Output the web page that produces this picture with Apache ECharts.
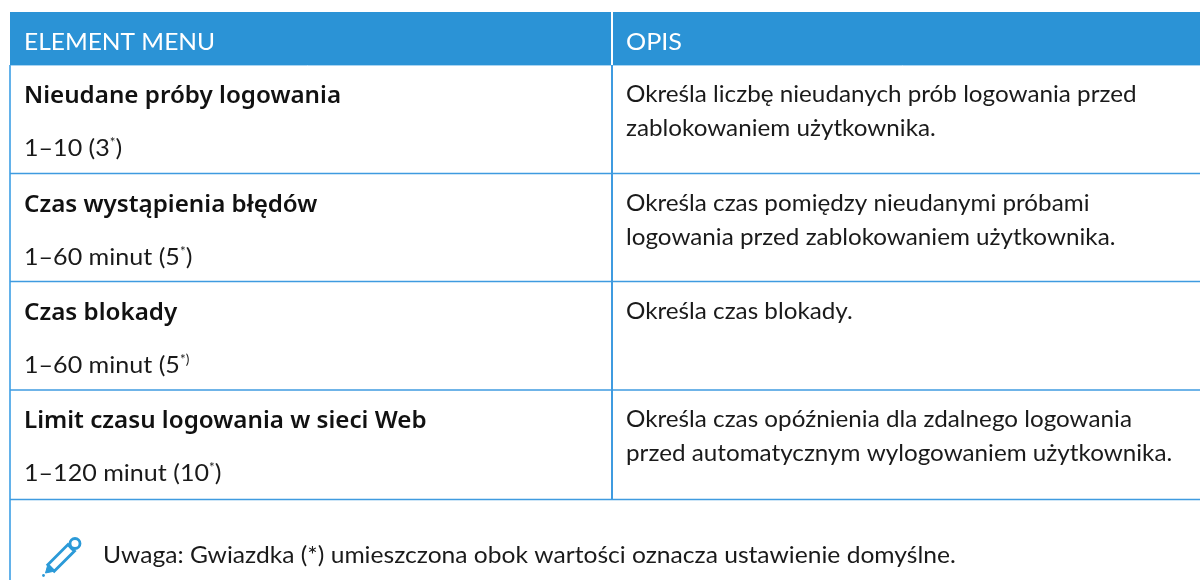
<!DOCTYPE html>
<html><head><meta charset="utf-8"><style>html,body{margin:0;padding:0;background:#fff}#c{width:1200px;height:580px}</style>
<script src="https://cdn.jsdelivr.net/npm/echarts@6/dist/echarts.min.js"></script></head>
<body><div id="c"></div>
<script>
const headers = ['ELEMENT MENU', 'OPIS'];
const names = ['Nieudane próby logowania', 'Czas wystąpienia błędów', 'Czas blokady', 'Limit czasu logowania w sieci Web'];
const values = ['1–10 (3{s|*})', '1–60 minut (5{s|*})', '1–60 minut (5{s|*)}', '1–120 minut (10{s|*})'];
const descriptions = [
 ['Określa liczbę nieudanych prób logowania przed', 'zablokowaniem użytkownika.'],
 ['Określa czas pomiędzy nieudanymi próbami', 'logowania przed zablokowaniem użytkownika.'],
 ['Określa czas blokady.'],
 ['Określa czas opóźnienia dla zdalnego logowania', 'przed automatycznym wylogowaniem użytkownika.']
];
const note = 'Uwaga: Gwiazdka (*) umieszczona obok wartości oznacza ustawienie domyślne.';

const FONT = 'Lato', SIZE = 24, INK = '#1a1a1a', BLUE = '#2b93d6', LINE = '#3f9be0', PEN = '#2b9ad8';
const rowLines = [173.5, 281.5, 390, 499.5];
const g = [];
const txt = (x, y, t, o, sx) => g.push({type:'text', x, y, scaleX:sx||1, silent:true, style:Object.assign({text:t, fill:INK, font:SIZE+'px '+FONT, textVerticalAlign:'middle',
  rich:{s:{fontSize:13, fontFamily:FONT, fill:INK, verticalAlign:'top', lineHeight:22}}}, o||{})});
const line = (x1,y1,x2,y2,c,w) => g.push({type:'line', silent:true, shape:{x1,y1,x2,y2}, style:{stroke:c,lineWidth:w}});

g.push({type:'rect', silent:true, shape:{x:10,y:12,width:1190,height:53}, style:{fill:BLUE}});
line(612,12,612,65,'#ffffff',2);
line(10,65.5,1200,65.5,'#a9d4f2',1);
line(10,65,10,580,'#63b2ea',2);
line(612,65,612,500,LINE,2);
rowLines.forEach(y=>line(10,y,1200,y,LINE,1.5));
txt(24,42,headers[0],{fill:'#fff'},1.022); txt(626,42,headers[1],{fill:'#fff'},1.05);
const tops=[65,174,282,390];
names.forEach((n,i)=>{
  txt(24,tops[i]+31,n,{font:'600 24.2px "Noto Sans"',fill:'#111'});
  txt(24,tops[i]+83,values[i],null,1.045);
  descriptions[i].forEach((d,j)=>txt(626,tops[i]+29+j*34,d,null,1.01));
});
g.push({type:'polygon', silent:true, shape:{points:[[47.8,564.8],[68,544.6],[72,549],[74.5,551],[54.2,571.2]]}, style:{fill:'none',stroke:PEN,lineWidth:2.8}});
g.push({type:'polygon', silent:true, shape:{points:[[47.8,564.8],[45.5,573],[54.2,571.2]]}, style:{fill:PEN,stroke:PEN,lineWidth:1}});
g.push({type:'circle', silent:true, shape:{cx:75,cy:543.5,r:5}, style:{fill:'none',stroke:PEN,lineWidth:2.8}});
g.push({type:'circle', silent:true, shape:{cx:43.5,cy:575.5,r:1.4}, style:{fill:PEN}});
txt(103,555,note,null,1.025);

const chart = echarts.init(document.getElementById('c'),null,{renderer:'canvas'});
chart.setOption({animation:false,backgroundColor:'#fff',graphic:{elements:g}});
</script></body></html>
